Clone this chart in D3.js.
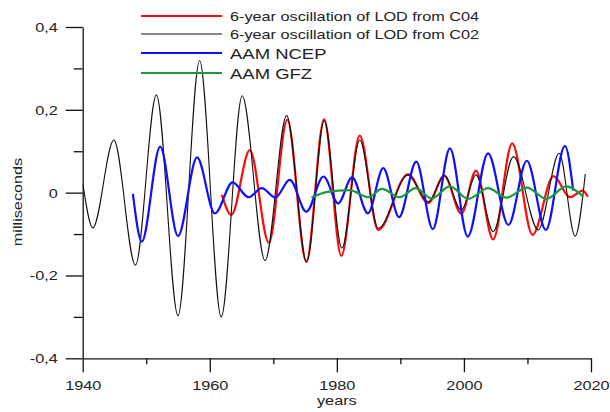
<!DOCTYPE html>
<html>
<head>
<meta charset="utf-8">
<script src="https://cdn.jsdelivr.net/npm/d3@7"></script>
<style>
  body { margin: 0; background: #fff; }
  text { font-family: "Liberation Sans", Arial, sans-serif; fill: #222; }
</style>
</head>
<body>
<div id="chart"></div>
<script>
// values (extrema of each oscillation)
var yearsC04 = [1961.9, 1963.4, 1966.3, 1969.3, 1972.2, 1975.2, 1978.0, 1980.7, 1983.6, 1986.5, 1991.2, 1994.4, 1996.9, 1999.6, 2001.9, 2004.6, 2007.6, 2010.8, 2014.1, 2016.7, 2018.7, 2019.5];
var lodC04 = [-0.005, -0.054, 0.103, -0.121, 0.176, -0.167, 0.177, -0.153, 0.138, -0.090, 0.044, -0.025, 0.041, -0.051, 0.053, -0.113, 0.119, -0.102, 0.040, -0.011, 0.005, -0.010];

var yearsC02 = [1940.05, 1941.6, 1944.9, 1948.3, 1951.6, 1955.0, 1958.4, 1961.8, 1965.1, 1968.7, 1972.1, 1975.25, 1978.0, 1980.8, 1983.6, 1986.5, 1991.2, 1994.4, 1996.9, 1999.6, 2001.9, 2004.6, 2007.8, 2011.7, 2015.0, 2017.5, 2019.1];
var lodC02 = [0.019, -0.085, 0.127, -0.175, 0.236, -0.297, 0.319, -0.300, 0.234, -0.164, 0.186, -0.167, 0.174, -0.134, 0.127, -0.086, 0.043, -0.022, 0.041, -0.042, 0.043, -0.094, 0.087, -0.090, 0.095, -0.105, 0.045];

var yearsNCEP = [1947.9, 1949.3, 1952.2, 1955.0, 1958.0, 1960.8, 1963.6, 1966.1, 1968.2, 1970.3, 1972.6, 1975.2, 1977.9, 1980.2, 1982.4, 1984.9, 1987.3, 1989.8, 1992.5, 1995.1, 1997.8, 2000.6, 2003.8, 2007.0, 2009.9, 2012.9, 2015.9, 2017.2];
var aamNCEP = [-0.003, -0.118, 0.111, -0.105, 0.085, -0.050, 0.025, -0.011, 0.011, -0.012, 0.031, -0.046, 0.039, -0.026, 0.037, -0.050, 0.059, -0.059, 0.075, -0.088, 0.107, -0.106, 0.095, -0.078, 0.077, -0.090, 0.113, 0.005];

var yearsGFZ = [1976.0, 1978.5, 1982.0, 1985.0, 1987.1, 1989.9, 1992.4, 1994.9, 1997.8, 2000.7, 2003.8, 2006.7, 2009.9, 2013.0, 2016.1, 2018.8];
var aamGFZ = [-0.012, 0.002, 0.006, -0.011, 0.009, -0.011, 0.011, -0.014, 0.015, -0.015, 0.011, -0.012, 0.012, -0.015, 0.015, -0.010];

var yMajor = [-0.4, -0.2, 0, 0.2, 0.4];
var yMinor = [-0.3, -0.1, 0.1, 0.3];
var xMajor = [1940, 1960, 1980, 2000, 2020];
var xMinor = [1950, 1970, 1990, 2010];

var legendNames = ["6-year oscillation of LOD from C04", "6-year oscillation of LOD from C02", "AAM NCEP", "AAM GFZ"];

var width = 610, height = 412;
var sx = 1.25; // the labels in the picture use a wide face

var svg = d3.select("#chart").append("svg")
    .attr("width", width)
    .attr("height", height);

var x = d3.scaleLinear().domain([1940, 2020]).range([82.7, 591]);
var y = d3.scaleLinear().domain([-0.4, 0.4]).range([358.3, 27]);

var loc = d3.formatLocale({ decimal: ",", thousands: " ", grouping: [3], currency: ["", ""], minus: "-" });
function comma(d){ return d === 0 ? "0" : loc.format(".1f")(d); }

// y axis
var yAx = svg.append("g").attr("transform", "translate(" + x(1940) + ",0)");
yAx.call(d3.axisLeft(y).tickValues(yMajor).tickSize(17).tickSizeOuter(0).tickFormat(comma));
yAx.append("g").call(d3.axisLeft(y).tickValues(yMinor).tickSize(9).tickSizeOuter(0).tickFormat(""))
    .select(".domain").remove();
yAx.selectAll("text")
    .attr("x", -20).attr("dy", null).attr("y", 4.5)
    .attr("transform", "scale(" + sx + ",1)")
    .style("font-size", "13px").attr("fill", "#222");

// x axis
var xAx = svg.append("g").attr("transform", "translate(0," + y(-0.4) + ")");
xAx.call(d3.axisBottom(x).tickValues(xMajor).tickSize(14).tickSizeOuter(0).tickFormat(d3.format("d")));
xAx.append("g").call(d3.axisBottom(x).tickValues(xMinor).tickSize(6).tickSizeOuter(0).tickFormat(""))
    .select(".domain").remove();
xAx.selectAll("text")
    .attr("dy", null).attr("y", 31.8)
    .attr("transform", "scale(" + sx + ",1)")
    .style("font-size", "13px").attr("fill", "#222");

svg.selectAll(".domain, .tick line").attr("stroke", "#111").attr("stroke-width", 1.3);

// axis titles
svg.append("text")
    .attr("transform", "translate(" + x(1980) + ",405) scale(" + sx + ",1)")
    .attr("text-anchor", "middle")
    .style("font-size", "13px")
    .text("years");

svg.append("text")
    .attr("transform", "translate(21.5,202) rotate(-90) scale(" + sx + ",1)")
    .attr("text-anchor", "middle")
    .style("font-size", "13px")
    .text("milliseconds");

// curves
var line = d3.line()
    .x(function(d){ return x(d[0]); })
    .y(function(d){ return y(d[1]); })
    .curve(d3.curveMonotoneX);

var series = [
  { years: yearsC04, vals: lodC04, color: "#ff0a0a", w: 2.2 },
  { years: yearsC02, vals: lodC02, color: "#111111", w: 1.1 },
  { years: yearsNCEP, vals: aamNCEP, color: "#0f0fff", w: 2.2 },
  { years: yearsGFZ, vals: aamGFZ, color: "#1a9a3a", w: 2.2 }
];

svg.selectAll(".series")
    .data(series)
    .enter().append("path")
    .attr("class", "series")
    .attr("fill", "none")
    .attr("stroke", function(d){ return d.color; })
    .attr("stroke-width", function(d){ return d.w; })
    .attr("stroke-linejoin", "round")
    .attr("d", function(d){ return line(d.years.map(function(yr, i){ return [yr, d.vals[i]]; })); });

// legend
var legY = [16, 34, 53, 73];
var legSize = [13, 13, 15.4, 15.4];
var leg = svg.selectAll(".leg")
    .data(series)
    .enter().append("g")
    .attr("class", "leg")
    .attr("transform", function(d, i){ return "translate(0," + legY[i] + ")"; });

leg.append("line")
    .attr("x1", 141).attr("x2", 222)
    .attr("stroke", function(d){ return d.color; })
    .attr("stroke-width", function(d){ return d.w; });

leg.append("text")
    .attr("transform", function(d, i){ return "translate(230," + (i < 2 ? 5 : 6) + ") scale(" + (i < 2 ? sx : 1.2) + ",1)"; })
    .style("font-size", function(d, i){ return legSize[i] + "px"; })
    .text(function(d, i){ return legendNames[i]; });
</script>
</body>
</html>
